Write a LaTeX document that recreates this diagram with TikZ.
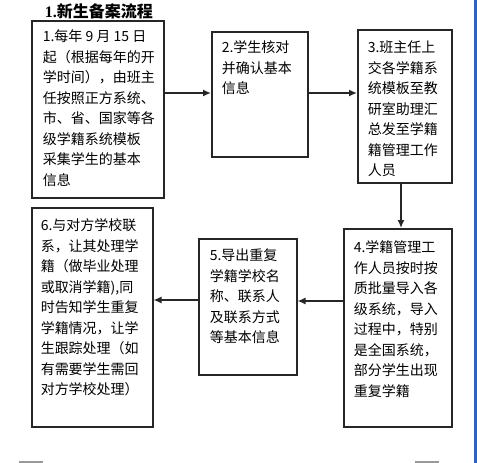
\documentclass[tikz,border=0pt]{standalone}
\usepackage{fontspec}
\newfontfamily\cjk{Noto Sans CJK SC}
\newfontfamily\latb{Liberation Serif}
\usetikzlibrary{arrows.meta}
\definecolor{edgeblue}{RGB}{45,95,200}
\newcommand\bxt[5]{\parbox[t][#2pt][t]{#1pt}{\vspace*{#4pt}\setlength\parindent{0pt}\leftskip=#3pt\relax #5\par}}
\tikzset{
  box/.style={draw=black!85, line width=1.5pt, inner sep=0pt, anchor=north west,
    font=\cjk\fontsize{14}{20.5}\selectfont},
  arr/.style={line width=1.5pt, draw=black!85, -{Latex[length=8pt,width=7pt]}},
}
\begin{document}
\begin{tikzpicture}[x=1pt,y=-1pt]
\useasboundingbox (0,0) rectangle (477,463);
\fill[white] (0,0) rectangle (477,463);
\node[font=\fontsize{16}{16}\selectfont] (title) at (99,11) {\latb\bfseries 1.\cjk\bfseries 新生备案流程};
\node[box] (b1) at (31,20) {\bxt{132}{177}{11}{9}{1.每年 9 月 15 日\\起（根据每年的开\\学时间），由班主\\任按照正方系统、\\市、省、国家等各\\级学籍系统模板\\采集学生的基本\\信息}};
\node[box] (b2) at (211,31) {\bxt{96}{125}{10}{9}{2.学生核对\\并确认基本\\信息}};
\node[box] (b3) at (357,29) {\bxt{94}{153}{10}{11}{3.班主任上\\交各学籍系\\统模板至教\\研室助理汇\\总发至学籍\\籍管理工作\\人员}};
\node[box] (b4) at (343,228) {\bxt{108}{198}{10}{12}{4.学籍管理工\\作人员按时按\\质批量导入各\\级系统，导入\\过程中，特别\\是全国系统，\\部分学生出现\\重复学籍}};
\node[box] (b5) at (198,238) {\bxt{98}{136}{11}{10}{5.导出重复\\学籍学校名\\称、联系人\\及联系方式\\等基本信息}};
\node[box] (b6) at (31,207) {\bxt{121}{219}{9}{11}{6.与对方学校联\\系，让其处理学\\籍（做毕业处理\\或取消学籍),同\\时告知学生重复\\学籍情况，让学\\生跟踪处理（如\\有需要学生需回\\对方学校处理）}};
\coordinate (yA) at (0,93);
\coordinate (xB) at (401,0);
\coordinate (yC) at (0,301);
\coordinate (yD) at (0,300);
\draw[arr] (b1.east |- yA) -- (b2.west |- yA);
\draw[arr] (b2.east |- yA) -- (b3.west |- yA);
\draw[arr] (b3.south -| xB) -- (b4.north -| xB);
\draw[arr] (b4.west |- yC) -- (b5.east |- yC);
\draw[arr] (b5.west |- yD) -- (b6.east |- yD);
\fill[edgeblue] (474,0) rectangle (477,463);
\fill[black!40] (19,461) rectangle (43,463);
\fill[black!40] (415,461) rectangle (439,463);
\end{tikzpicture}
\end{document}
